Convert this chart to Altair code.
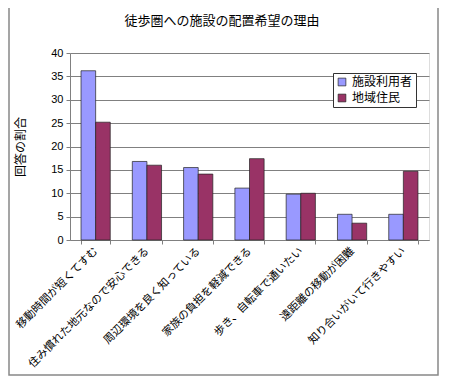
import altair as alt
import pandas as pd

categories = [
    "移動時間が短くてすむ",
    "住み慣れた地元なので安心できる",
    "周辺環境を良く知っている",
    "家族の負担を軽減できる",
    "歩き、自転車で通いたい",
    "遠距離の移動が困難",
    "知り合いがいて行きやすい",
]
series_names = ["施設利用者", "地域住民"]
facility_users = [36.2, 16.8, 15.5, 11.1, 9.8, 5.5, 5.5]
residents = [25.2, 16.0, 14.1, 17.4, 10.0, 3.6, 14.7]
colors = ["#9999FF", "#993366"]
y_ticks = [0, 5, 10, 15, 20, 25, 30, 35, 40]
title_text = "徒歩圏への施設の配置希望の理由"

rows = []
for c, a, b in zip(categories, facility_users, residents):
    rows.append({"category": c, "series": series_names[0], "value": a})
    rows.append({"category": c, "series": series_names[1], "value": b})
df = pd.DataFrame(rows)

JP = "Noto Sans CJK JP"
LAT = "Liberation Sans"

W, H = 359, 187

bars = alt.Chart(df).mark_bar(stroke="#222222", strokeWidth=0.7).encode(
    x=alt.X(
        "category:N",
        sort=categories,
        scale=alt.Scale(paddingInner=0.43, paddingOuter=0.215),
        axis=alt.Axis(
            title=None,
            labelAngle=-45,
            labelAlign="right",
            labelBaseline="middle",
            labelFont=JP,
            labelFontSize=11,
            labelColor="#000000",
            labelPadding=5,
            labelLimit=300,
            domainColor="#808080",
            tickColor="#808080",
            tickSize=4,
            tickBand="extent",
            grid=False,
        ),
    ),
    xOffset=alt.XOffset("series:N", sort=series_names),
    y=alt.Y(
        "value:Q",
        scale=alt.Scale(domain=[0, 40], nice=False),
        axis=alt.Axis(
            title="回答の割合",
            titleFont=JP,
            titleFontSize=12,
            titleFontWeight="normal",
            titleColor="#000000",
            titleX=-50,
            titleY=H / 2,
            titleAlign="center",
            titleBaseline="middle",
            values=y_ticks,
            labelFont=LAT,
            labelFontSize=11,
            labelColor="#000000",
            labelPadding=3,
            domainColor="#808080",
            tickColor="#808080",
            tickSize=4,
            grid=True,
            gridColor="#808080",
            gridWidth=1,
        ),
    ),
    color=alt.Color(
        "series:N",
        sort=series_names,
        scale=alt.Scale(domain=series_names, range=colors),
        legend=alt.Legend(
            title=None,
            orient="none",
            legendX=263,
            legendY=20,
            labelFont=JP,
            labelFontSize=12,
            labelColor="#000000",
            symbolType="square",
            symbolSize=60,
            symbolStrokeColor="#222222",
            symbolStrokeWidth=0.7,
            rowPadding=4,
            padding=3,
            strokeColor="#333333",
            fillColor="#FFFFFF",
        ),
    ),
)

frame = alt.Chart(pd.DataFrame({"a": [0]})).mark_rect(
    fill=None, stroke="#888888", strokeWidth=1.5
).encode(
    x=alt.value(-61),
    x2=alt.value(368),
    y=alt.value(-52),
    y2=alt.value(322),
)

title = alt.Chart(pd.DataFrame({"t": [title_text]})).mark_text(
    font=JP, fontSize=13, color="#000000", align="center", baseline="alphabetic"
).encode(
    text="t:N",
    x=alt.value(152),
    y=alt.value(-28),
)

chart = alt.layer(frame, bars, title).properties(
    width=W,
    height=H,
    autosize=alt.AutoSizeParams(type="none"),
    padding={"left": 62, "top": 45, "right": 13, "bottom": 144},
).configure_view(stroke="#808080", strokeWidth=1).configure(background="#FFFFFF")

chart.save("out.html", embed_options={"renderer": "svg", "actions": False})
